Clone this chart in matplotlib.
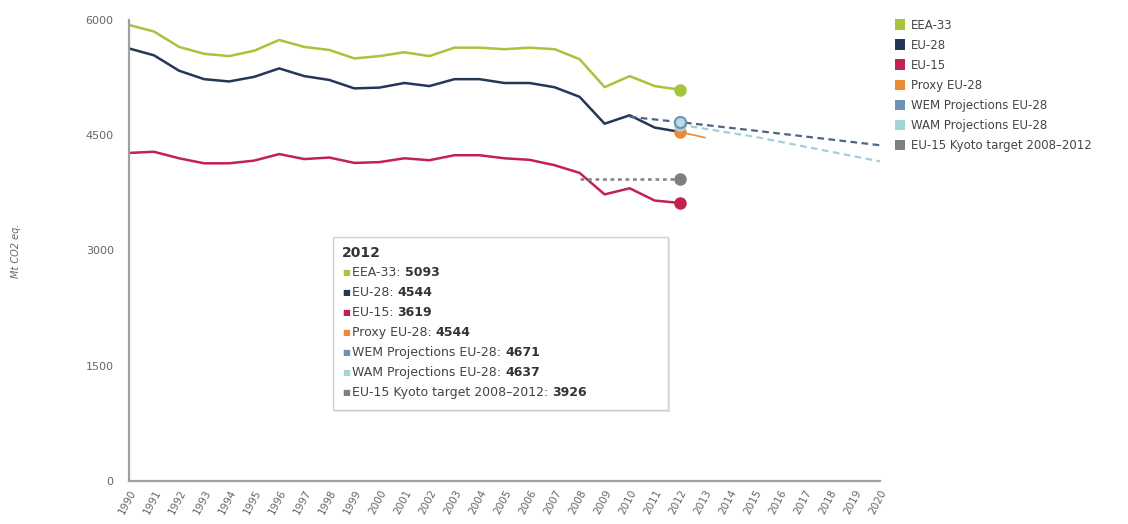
import numpy as np
import matplotlib
matplotlib.use("Agg")
import matplotlib.pyplot as plt
from matplotlib.patches import Patch, Rectangle

# series values (Mt CO2 eq.)
years = list(range(1990, 2013))
eea33 = [5935, 5850, 5650, 5560, 5530, 5600, 5740, 5650, 5610, 5500, 5530,
         5580, 5530, 5640, 5640, 5620, 5640, 5620, 5490, 5126, 5270, 5140, 5093]
eu28 = [5630, 5540, 5340, 5230, 5200, 5260, 5370, 5270, 5220, 5110, 5120,
        5180, 5140, 5230, 5230, 5180, 5180, 5125, 5000, 4650, 4760, 4600, 4544]
eu15 = [4270, 4285, 4200, 4135, 4135, 4170, 4255, 4190, 4210, 4140, 4150,
        4200, 4175, 4240, 4240, 4200, 4180, 4110, 4010, 3730, 3810, 3650, 3619]
proxy_years = [2012, 2013]
proxy = [4544, 4470]
wem_years = [2010, 2012, 2015, 2020]
wem = [4740, 4671, 4560, 4370]
wam_years = [2012, 2015, 2020]
wam = [4637, 4480, 4160]
kyoto_years = [2008, 2012]
kyoto = [3926, 3926]

names = ['EEA-33', 'EU-28', 'EU-15', 'Proxy EU-28', 'WEM Projections EU-28',
         'WAM Projections EU-28', 'EU-15 Kyoto target 2008\u20132012']
colors = ['#a6c43c', '#263659', '#c2224f', '#e88b35', '#6f91b5', '#a3d5d8', '#7f7f7f']
values_2012 = [5093, 4544, 3619, 4544, 4671, 4637, 3926]

W, H = 1128, 524
fig = plt.figure(figsize=(W / 100, H / 100), dpi=100)
ax = fig.add_axes([129 / W, 1 - 481 / H, (880 - 129) / W, (481 - 20) / H])

ax.plot(years, eea33, color=colors[0], lw=1.8)
ax.plot(years, eu28, color=colors[1], lw=1.8)
ax.plot(years, eu15, color=colors[2], lw=1.8)
ax.plot(kyoto_years, kyoto, color=colors[6], lw=1.8, ls=(0, (1.5, 1.5)))
ax.plot(wem_years, wem, color='#4d6584', lw=1.6, ls=(0, (3, 2)))
ax.plot(wam_years, wam, color='#9fcfe0', lw=1.6, ls=(0, (3, 2)))
ax.plot(proxy_years, proxy, color=colors[3], lw=1.2)

# end markers
ax.plot(years[-1], eea33[-1], 'o', color=colors[0], ms=8)
ax.plot(years[-1], eu15[-1], 'o', color=colors[2], ms=8)
ax.plot(kyoto_years[-1], kyoto[-1], 'o', color=colors[6], ms=8)
ax.plot(proxy_years[0], proxy[0], 'o', color=colors[3], ms=8)
ax.plot(wam_years[0], wam[0], 'o', color=colors[5], ms=8)
ax.plot(wem_years[1], wem[1], 'o', mfc='#b9dcea', mec=colors[4], mew=1.5, ms=8)

ax.set_xlim(1990, 2020)
ax.set_ylim(0, 6000)
ax.set_xticks(range(1990, 2021))
ax.set_xticklabels([str(y) for y in range(1990, 2021)], rotation=62,
                   ha='right', va='top', rotation_mode='anchor')
ax.set_yticks([0, 1500, 3000, 4500, 6000])
ax.tick_params(axis='y', length=0, labelsize=8, colors='#666666', pad=11)
ax.tick_params(axis='x', length=0, labelsize=7.5, colors='#666666', pad=5)
for s in ['top', 'right']:
    ax.spines[s].set_visible(False)
for s in ['left', 'bottom']:
    ax.spines[s].set_color('#a0a0a0')
    ax.spines[s].set_linewidth(1.6)

fig.text(16 / W, 1 - 251 / H, 'Mt CO2 eq.', rotation=90, fontsize=7,
         color='#666666', style='italic', ha='center', va='center')

# right legend
handles = [Patch(facecolor=c, edgecolor='none') for c in colors]
fig.legend(handles, names, loc='upper left', bbox_to_anchor=(884 / W, 1 - 8 / H),
           frameon=False, fontsize=8.5, handlelength=0.85, handleheight=1.0,
           handletextpad=0.55, labelspacing=0.6, labelcolor='#444444')

# tooltip box
bx0, by0, bx1, by1 = 333, 237, 668, 410
fig.patches.append(Rectangle(((bx0 + 2) / W, 1 - (by1 + 2) / H), (bx1 - bx0) / W,
                             (by1 - by0) / H, transform=fig.transFigure,
                             facecolor='#e6e6e6', edgecolor='none', zorder=5))
fig.patches.append(Rectangle((bx0 / W, 1 - by1 / H), (bx1 - bx0) / W, (by1 - by0) / H,
                             transform=fig.transFigure, facecolor='white',
                             edgecolor='#d0d0d0', lw=1, zorder=6))
fig.text(342 / W, 1 - 253 / H, '2012', fontsize=10, fontweight='bold',
         color='#333333', va='center', zorder=7)
r = fig.canvas.get_renderer()
for i, (n, v, c) in enumerate(zip(names, values_2012, colors)):
    yy = 1 - (273 + i * 19.9) / H
    fig.text(342 / W, yy, '\u25a0', fontsize=6, color=c, va='center', zorder=7)
    t = fig.text(352 / W, yy, n + ': ', fontsize=9, color='#444444', va='center', zorder=7)
    bb = t.get_window_extent(renderer=r)
    fig.text(bb.x1 / W, yy, str(v), fontsize=9, fontweight='bold',
             color='#333333', va='center', zorder=7)

fig.savefig('out.png', dpi=100)
